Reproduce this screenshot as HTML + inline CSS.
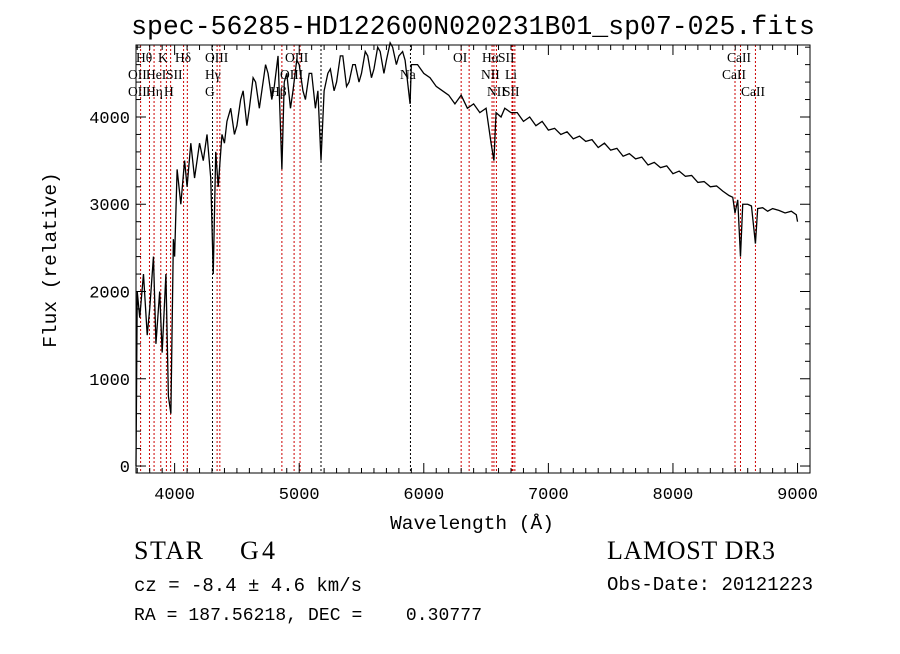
<!DOCTYPE html>
<html><head><meta charset="utf-8"><style>
body{margin:0;background:#fff}
svg text{font-family:"Liberation Mono",monospace;fill:#000;white-space:pre}
.lab text{font-family:"Liberation Serif",serif;font-size:13.5px}
.ser{font-family:"Liberation Serif",serif !important}
</style></head><body>
<svg id="c" width="900" height="649" xmlns="http://www.w3.org/2000/svg" xml:space="preserve">
<rect width="900" height="649" fill="#fff"/>
<text x="473" y="34" text-anchor="middle" font-size="26.5">spec-56285-HD122600N020231B01_sp07-025.fits</text>
<g id="lines"></g>
<g id="spec"></g>
<g id="axes"></g>
<g id="labels" class="lab"></g>
<text x="472" y="529" text-anchor="middle" font-size="19.5">Wavelength (Å)</text>
<text transform="translate(56,260) rotate(-90)" text-anchor="middle" font-size="19.5">Flux (relative)</text>
<text class="ser" x="134" y="559" font-size="26" textLength="69">STAR</text>
<text class="ser" x="240" y="559" font-size="26" textLength="35">G4</text>
<text x="134" y="591" font-size="19" textLength="228">cz = -8.4 ± 4.6 km/s</text>
<text x="134" y="620" font-size="18" textLength="348">RA = 187.56218, DEC =    0.30777</text>
<text class="ser" x="607" y="559" font-size="26" textLength="168">LAMOST DR3</text>
<text x="607" y="590" font-size="19" textLength="206">Obs-Date: 20121223</text>
</svg>
<script>
const wave=[3690,3700,3720,3750,3780,3800,3830,3850,3880,3900,3930,3950,3970,3990,4000,4020,4050,4080,4100,4130,4160,4200,4230,4260,4290,4310,4330,4350,4380,4400,4420,4450,4480,4500,4530,4550,4580,4600,4630,4650,4680,4700,4730,4750,4780,4800,4830,4861,4880,4900,4930,4950,4980,5000,5030,5050,5080,5100,5130,5150,5175,5200,5230,5250,5280,5300,5330,5350,5380,5400,5430,5450,5480,5500,5530,5550,5580,5600,5630,5650,5680,5700,5730,5750,5780,5800,5830,5850,5890,5900,5950,6000,6050,6100,6150,6200,6250,6300,6350,6400,6450,6500,6540,6563,6580,6620,6650,6700,6750,6800,6850,6900,6950,7000,7050,7100,7150,7200,7250,7300,7350,7400,7450,7500,7550,7600,7650,7700,7750,7800,7850,7900,7950,8000,8050,8100,8150,8200,8250,8300,8350,8400,8450,8480,8498,8520,8542,8560,8600,8630,8662,8680,8720,8760,8800,8850,8900,8950,8990,9000];
const flux=[0,2000,1700,2200,1500,1800,2400,1400,2000,1300,2200,800,600,2600,2400,3400,3000,3500,3200,3700,3300,3700,3500,3800,3300,2200,3600,3200,3800,3700,3950,4100,3800,3900,4200,4300,3900,4100,4450,4400,4100,4300,4600,4500,4200,4350,4700,3400,4400,4500,4100,4300,4650,4600,4300,4200,4500,4500,4100,4300,3500,4300,4500,4550,4300,4400,4700,4700,4350,4400,4600,4600,4400,4500,4750,4700,4450,4550,4800,4750,4500,4650,4850,4800,4600,4700,4750,4650,4150,4600,4600,4500,4450,4350,4300,4250,4150,4250,4100,4150,4050,4100,3700,3500,4050,4000,4100,4050,4050,3950,4000,3900,3950,3850,3870,3800,3830,3750,3780,3720,3740,3650,3700,3620,3640,3550,3580,3520,3540,3450,3480,3420,3440,3350,3380,3320,3330,3250,3260,3200,3210,3150,3100,3080,2900,3050,2400,3000,3000,2980,2550,2950,2960,2920,2950,2930,2900,2920,2880,2800,2000];
const lineWaves=[3727,3798,3835,3889,3934,3968,4072,4102,4304,4341,4363,4861,4959,5007,5175,5893,6300,6364,6548,6563,6583,6708,6716,6731,8498,8542,8662];
const lineBlack=[0,0,0,0,0,0,0,0,1,0,0,0,0,0,1,1,0,0,0,0,0,0,0,0,0,0,0];
const xTicks=[4000,5000,6000,7000,8000,9000];
const yTicks=[0,1000,2000,3000,4000];
const L=136,R=810,T=45,B=473,X0=3690,X1=9100,Y0=-80,Y1=4825;
const sx=v=>L+(v-X0)/(X1-X0)*(R-L), sy=v=>B-(v-Y0)/(Y1-Y0)*(B-T);
const NS="http://www.w3.org/2000/svg";
function mk(t,a,p){const e=document.createElementNS(NS,t);for(const k in a)e.setAttribute(k,a[k]);p.appendChild(e);return e;}
const gl=document.getElementById('lines');
lineWaves.forEach((w,i)=>{const e=mk('line',{x1:sx(w),x2:sx(w),y1:T,y2:B,stroke:lineBlack[i]?'#000':'#c00','stroke-width':1,'stroke-dasharray':'2,2'},gl);

});
const gs=document.getElementById('spec');
const p=mk('polyline',{points:wave.map((w,i)=>sx(w)+','+sy(flux[i])).join(' '),fill:'none',stroke:'#000','stroke-width':1.3},gs);


const ga=document.getElementById('axes');
const fr=mk('rect',{x:L,y:T,width:R-L,height:B-T,fill:'none',stroke:'#000','stroke-width':1},ga);


for(let w=3700;w<=9100;w+=100){const maj=w%1000===0,len=maj?10:5;
mk('line',{x1:sx(w),x2:sx(w),y1:B,y2:B-len,stroke:'#000'},ga);mk('line',{x1:sx(w),x2:sx(w),y1:T,y2:T+len,stroke:'#000'},ga);}
for(let v=0;v<=4800;v+=200){const maj=v%1000===0,len=maj?10:5;
mk('line',{x1:L,x2:L+len,y1:sy(v),y2:sy(v),stroke:'#000'},ga);mk('line',{x1:R,x2:R-len,y1:sy(v),y2:sy(v),stroke:'#000'},ga);}
xTicks.forEach(v=>{const t=mk('text',{x:sx(v),y:B+26,'text-anchor':'middle','font-size':17},ga);t.textContent=v;

});
yTicks.forEach(v=>{const t=mk('text',{x:L-6,y:sy(v)+6,'text-anchor':'end','font-size':17},ga);t.textContent=v;

});
const labs=[["Hθ",136,62],["K",158,62],["Hδ",175,62],["OIII",205,62],["OIII",285,62],["OI",453,62],["Hα",482,62],["SII",498,62],["CaII",727,62],
["OII",128,79],["HeI",146,79],["SII",166,79],["Hγ",205,79],["OIII",280,79],["Na",400,79],["NII",481,79],["Li",505,79],["CaII",722,79],
["OII",128,96],["Hη",146,96],["H",164,96],["G",205,96],["Hβ",270,96],["NII",487,96],["SII",503,96],["CaII",741,96]];
const glb=document.getElementById('labels');
labs.forEach(l=>{const t=mk('text',{x:l[1],y:l[2]},glb);t.textContent=l[0];

});
</script>
</body></html>
